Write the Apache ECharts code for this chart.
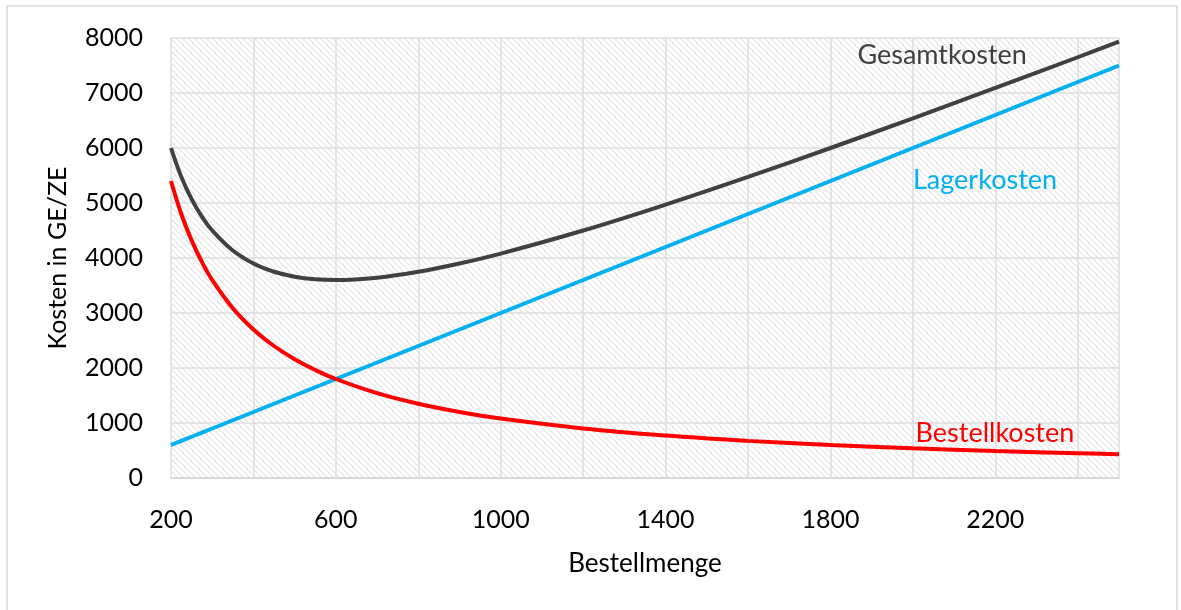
<!DOCTYPE html>
<html>
<head>
<meta charset="utf-8">
<script src="https://cdn.jsdelivr.net/npm/echarts@6/dist/echarts.min.js"></script>
<style>
  html, body { margin: 0; padding: 0; background: #fff; }
  #chart { width: 1181px; height: 610px; }
</style>
</head>
<body>
<div id="chart"></div>
<script>
// Order quantity (Bestellmenge)
const bestellmenge = [200, 225, 250, 275, 300, 350, 400, 450, 500, 550, 600, 700, 800, 900, 1000, 1200, 1400, 1600, 1800, 2000, 2200, 2400, 2500];
// Ordering costs (Bestellkosten)
const bestellkosten = [5400, 4800, 4320, 3927, 3600, 3086, 2700, 2400, 2160, 1964, 1800, 1543, 1350, 1200, 1080, 900, 771, 675, 600, 540, 491, 450, 432];
// Storage costs (Lagerkosten)
const lagerkosten = [600, 675, 750, 825, 900, 1050, 1200, 1350, 1500, 1650, 1800, 2100, 2400, 2700, 3000, 3600, 4200, 4800, 5400, 6000, 6600, 7200, 7500];
// Total costs (Gesamtkosten)
const gesamtkosten = [6000, 5475, 5070, 4752, 4500, 4136, 3900, 3750, 3660, 3614, 3600, 3643, 3750, 3900, 4080, 4500, 4971, 5475, 6000, 6540, 7091, 7650, 7932];

const xTicks = [200, 600, 1000, 1400, 1800, 2200];

const pair = (ys) => bestellmenge.map((x, i) => [x, ys[i]]);

// Diagonal hatching for the plot area
function hatchPattern() {
  const s = 6;
  const c = document.createElement('canvas');
  c.width = s; c.height = s;
  const g = c.getContext('2d');
  g.fillStyle = '#ffffff';
  g.fillRect(0, 0, s, s);
  g.strokeStyle = '#e3e3e3';
  g.lineWidth = 1.1;
  g.beginPath();
  g.moveTo(-1, -1); g.lineTo(s + 1, s + 1);
  g.moveTo(-1 - s, -1); g.lineTo(1, s + 1);
  g.moveTo(s - 1, -1); g.lineTo(2 * s + 1, s + 1);
  g.stroke();
  return { image: c, repeat: 'repeat' };
}

const FONT = 'Lato, "Open Sans", sans-serif';

function seriesLabel(text, coord, color) {
  return {
    symbol: 'circle', symbolSize: 0, silent: true,
    label: { show: true, position: 'inside', formatter: text, color: color, fontFamily: FONT, fontSize: 27 },
    data: [{ coord: coord }]
  };
}

const chart = echarts.init(document.getElementById('chart'), null, { renderer: 'canvas' });
chart.setOption({
  animation: false,
  backgroundColor: '#ffffff',
  graphic: [{
    type: 'rect', silent: true,
    shape: { x: 7, y: 6, width: 1170, height: 620 },
    style: { fill: null, stroke: '#d9d9d9', lineWidth: 1.5 }
  }],
  grid: {
    left: 171, right: 62, top: 38, bottom: 132,
    show: true, backgroundColor: hatchPattern(), borderWidth: 0
  },
  xAxis: {
    type: 'value', min: 200, max: 2500, interval: 200,
    name: 'Bestellmenge', nameLocation: 'middle', nameGap: 73,
    nameTextStyle: { color: '#000', fontFamily: FONT, fontSize: 26 },
    axisLine: { show: true, lineStyle: { color: '#d9d9d9', width: 2 } },
    axisTick: { show: false },
    splitLine: { show: true, lineStyle: { color: '#dedede', width: 1.5 } },
    axisLabel: {
      color: '#000', fontFamily: FONT, fontSize: 25, margin: 29,
      showMaxLabel: false,
      formatter: (v) => xTicks.includes(v) ? String(v) : ''
    }
  },
  yAxis: {
    type: 'value', min: 0, max: 8000, interval: 1000,
    name: 'Kosten in GE/ZE', nameLocation: 'middle', nameGap: 101,
    nameTextStyle: { color: '#000', fontFamily: FONT, fontSize: 25 },
    axisLine: { show: false },
    axisTick: { show: false },
    splitLine: { show: true, lineStyle: { color: '#dedede', width: 1.5 } },
    axisLabel: { color: '#000', fontFamily: FONT, fontSize: 25, margin: 28, formatter: (v) => String(v) }
  },
  series: [
    {
      name: 'Lagerkosten', type: 'line', data: pair(lagerkosten),
      showSymbol: false, smooth: false,
      lineStyle: { color: '#00b0f0', width: 4 }, itemStyle: { color: '#00b0f0' },
      markPoint: seriesLabel('Lagerkosten', [2175, 5420], '#00b0f0')
    },
    {
      name: 'Bestellkosten', type: 'line', data: pair(bestellkosten),
      showSymbol: false, smooth: 0.4,
      lineStyle: { color: '#ff0000', width: 4 }, itemStyle: { color: '#ff0000' },
      markPoint: seriesLabel('Bestellkosten', [2199, 820], '#ff0000')
    },
    {
      name: 'Gesamtkosten', type: 'line', data: pair(gesamtkosten),
      showSymbol: false, smooth: 0.4,
      lineStyle: { color: '#404040', width: 4 }, itemStyle: { color: '#404040' },
      markPoint: seriesLabel('Gesamtkosten', [2071, 7690], '#404040')
    }
  ]
});
</script>
</body>
</html>
